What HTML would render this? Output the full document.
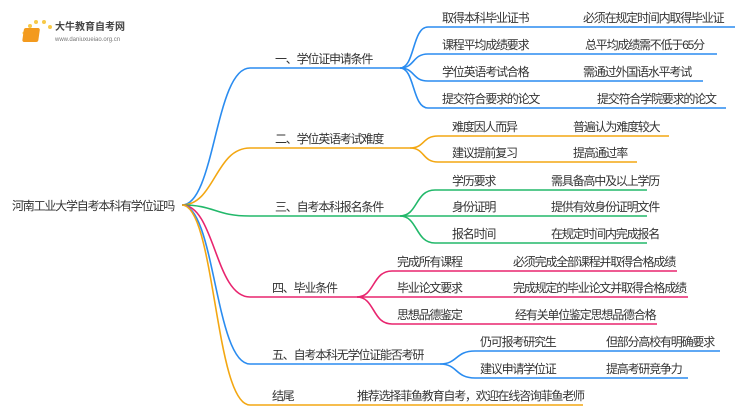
<!DOCTYPE html>
<html><head><meta charset="utf-8"><style>
html,body{margin:0;padding:0;background:#fff;}
svg{display:block;font-family:"Liberation Sans","Noto Sans CJK SC",sans-serif;}
text{font-size:12px;letter-spacing:-1.2px;fill:#333;}
</style></head><body>
<svg width="750" height="410" viewBox="0 0 750 410" xmlns="http://www.w3.org/2000/svg">
<g fill="none" stroke-width="1.6">
<path d="M182,205 C215,205 215,68 250,68 L400,68" stroke="#2a8cf0"/>
<path d="M182,205 C215,205 215,148 250,148 L410,148" stroke="#f3a712"/>
<path d="M182,205 C215,205 215,216 250,216 L400,216" stroke="#22b86a"/>
<path d="M182,205 C215,205 215,297 250,297 L357,297" stroke="#e8256f"/>
<path d="M182,205 C215,205 215,364 250,364 L440,364" stroke="#2a8cf0"/>
<path d="M182,205 C215,205 215,405 250,405 L583,405" stroke="#f3a712"/>
<g stroke="#2a8cf0">
<path d="M400,68 C415,68 412,27 428,27 L735,27"/>
<path d="M400,68 C415,68 412,54 428,54 L717,54"/>
<path d="M400,68 C415,68 412,81 428,81 L703,81"/>
<path d="M400,68 C415,68 412,108 428,108 L726,108"/>
</g>
<g stroke="#f3a712">
<path d="M410,148 C425,148 422,136 438,136 L669,136"/>
<path d="M410,148 C425,148 422,162 438,162 L637,162"/>
</g>
<g stroke="#22b86a">
<path d="M400,216 C418,216 415,190 435,190 L647,190"/>
<path d="M400,216 L647,216"/>
<path d="M400,216 C418,216 415,243 435,243 L647,243"/>
</g>
<g stroke="#e8256f">
<path d="M357,297 C375,297 372,271 392,271 L677,271"/>
<path d="M357,297 L688,297"/>
<path d="M357,297 C375,297 372,324 392,324 L657,324"/>
</g>
<g stroke="#2a8cf0">
<path d="M440,364 C458,364 455,351 475,351 L720,351"/>
<path d="M440,364 C458,364 455,378 475,378 L688,378"/>
</g>
</g>
<g>
<circle cx="30" cy="26" r="2" fill="#f7c948"/><circle cx="36" cy="22" r="2" fill="#f7c948"/><circle cx="44" cy="22" r="2" fill="#f7c948"/><circle cx="50" cy="27" r="2" fill="#f7c948"/><circle cx="24" cy="33" r="1.5" fill="#f7c948"/>
<rect x="28" y="28" width="16" height="14" rx="2" fill="#f39a1e" transform="skewX(-8)"/>
<text x="55" y="30" style="font-size:10px;letter-spacing:0;fill:#444;font-weight:bold">大牛教育自考网</text>
<text x="55" y="41" style="font-size:6px;letter-spacing:0;fill:#777">www.daniuxueiao.org.cn</text>
</g>
<text x="12" y="210">河南工业大学自考本科有学位证吗</text>
<text x="275" y="63">一、学位证申请条件</text>
<text x="275" y="143">二、学位英语考试难度</text>
<text x="275" y="211">三、自考本科报名条件</text>
<text x="272" y="292">四、毕业条件</text>
<text x="272" y="359">五、自考本科无学位证能否考研</text>
<text x="272" y="400">结尾</text>
<text x="357" y="400">推荐选择菲鱼教育自考，欢迎在线咨询菲鱼老师</text>

<text x="442" y="22">取得本科毕业证书</text><text x="583" y="22">必须在规定时间内取得毕业证</text>
<text x="442" y="49">课程平均成绩要求</text><text x="585" y="49">总平均成绩需不低于65分</text>
<text x="442" y="76">学位英语考试合格</text><text x="583" y="76">需通过外国语水平考试</text>
<text x="442" y="103">提交符合要求的论文</text><text x="597" y="103">提交符合学院要求的论文</text>

<text x="452" y="131">难度因人而异</text><text x="573" y="131">普遍认为难度较大</text>
<text x="452" y="157">建议提前复习</text><text x="573" y="157">提高通过率</text>

<text x="452" y="185">学历要求</text><text x="551" y="185">需具备高中及以上学历</text>
<text x="452" y="211">身份证明</text><text x="551" y="211">提供有效身份证明文件</text>
<text x="452" y="238">报名时间</text><text x="551" y="238">在规定时间内完成报名</text>

<text x="397" y="266">完成所有课程</text><text x="513" y="266">必须完成全部课程并取得合格成绩</text>
<text x="397" y="292">毕业论文要求</text><text x="513" y="292">完成规定的毕业论文并取得合格成绩</text>
<text x="397" y="319">思想品德鉴定</text><text x="515" y="319">经有关单位鉴定思想品德合格</text>

<text x="480" y="346">仍可报考研究生</text><text x="606" y="346">但部分高校有明确要求</text>
<text x="480" y="373">建议申请学位证</text><text x="606" y="373">提高考研竞争力</text>
</svg>
</body></html>
